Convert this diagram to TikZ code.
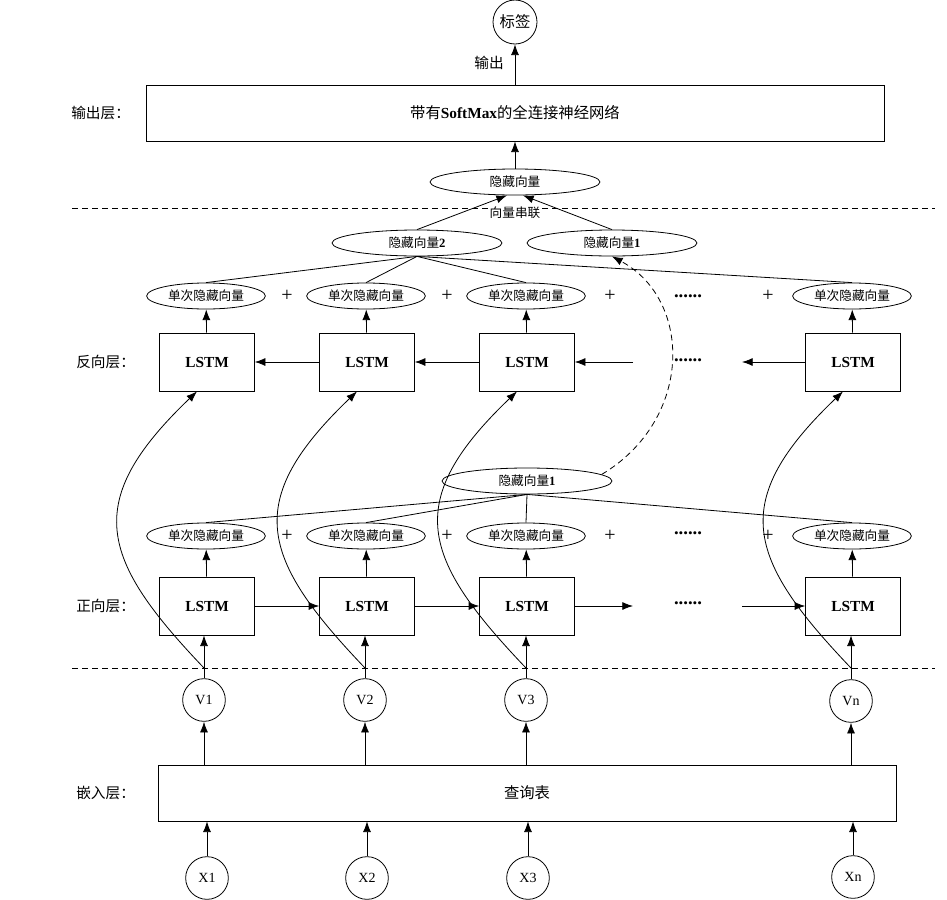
\documentclass[tikz,border=0pt]{standalone}
\usepackage{fontspec}
\setmainfont{Liberation Serif}
\newfontfamily\cjk{Noto Sans CJK SC}
\usetikzlibrary{shapes.geometric,arrows.meta,positioning,calc}
\tikzset{
  % LSTM cell
  LB/.style={rectangle,draw,line width=0.6pt,
             minimum width=71pt,minimum height=43.5pt,inner sep=0pt,
             font=\fontsize{11.5}{12}\selectfont\bfseries},
  % wide box
  WB/.style={rectangle,draw,line width=0.6pt,
             minimum width=553.5pt,minimum height=42pt,inner sep=0pt,
             font=\fontsize{11.5}{13}\selectfont\cjk},
  % ellipses
  EL/.style={ellipse,draw,line width=0.6pt,
             minimum width=89pt,minimum height=19.5pt,inner sep=0pt,
             font=\fontsize{9.5}{11}\selectfont\cjk},
  ELW/.style={EL,minimum width=127.5pt},
  % circles
  CR/.style={circle,draw,line width=0.6pt,minimum size=32pt,inner sep=0pt,
             font=\fontsize{10.5}{12}\selectfont},
  % connectors
  arr/.style={-{Latex[length=8pt,width=6pt]},line width=0.6pt},
  ln/.style={line width=0.6pt},
  sep/.style={dash pattern=on 4.5pt off 3pt,line width=0.6pt},
  % texts
  LL/.style={font=\fontsize{11}{13}\selectfont\cjk,inner sep=0pt,anchor=west},
  PL/.style={font=\fontsize{15}{15}\selectfont},
  DT/.style={font=\fontsize{14}{14}\selectfont\bfseries}
}

\begin{document}
\begin{tikzpicture}[x=0.75pt,y=-0.75pt]
  \useasboundingbox (0,0) rectangle (947,900);

  % output layer
  \node[CR,minimum size=33pt,font=\fontsize{11.5}{13}\selectfont\cjk] (tag) at (515,22) {标签};
  \node[WB] (fc) at (515,113) {带有{\rmfamily\bfseries SoftMax}的全连接神经网络};
  \node[ELW] (hv) at (515,182) {隐藏向量};
  \node[font=\fontsize{11}{13}\selectfont\cjk,inner sep=0pt] (outtxt) at (489,63) {输出};
  \draw[arr] (fc) -- (tag);
  \draw[arr] (hv) -- (fc);

  % separators
  \coordinate (s1l) at (72,208);  \coordinate (s1r) at (935,208);
  \coordinate (s2l) at (72,668);  \coordinate (s2r) at (935,668);
  \draw[sep] (s1l) -- (s1r);
  \draw[sep] (s2l) -- (s2r);
  \node[fill=white,inner sep=1pt,font=\fontsize{9.5}{11}\selectfont\cjk] (concat) at (515,213) {向量串联};

  % layer labels
  \node[LL] (lout) at (71,113) {输出层：};
  \node[LL] (lbwd) at (76,362) {反向层：};
  \node[LL] (lfwd) at (76,606) {正向层：};
  \node[LL] (lemb) at (76,793) {嵌入层：};

  % hidden vectors
  \node[ELW] (h2) at (417,243) {隐藏向量{\rmfamily\bfseries 2}};
  \node[ELW] (ht) at (612,243) {隐藏向量{\rmfamily\bfseries 1}};
  \node[ELW] (hm) at (527,481) {隐藏向量{\rmfamily\bfseries 1}};
  \draw[arr] (h2.north) -- ([xshift=-6pt]hv.south);
  \draw[arr] (ht.north) -- ([xshift=6pt]hv.south);

  % LSTM columns
  \foreach \i/\x in {1/207,2/367,3/527,4/853}{
    \node[LB] (b\i) at (\x,362) {LSTM};
    \node[EL] (be\i) at (\x-1,296) {单次隐藏向量};
    \node[LB] (f\i) at (\x,606) {LSTM};
    \node[EL] (fe\i) at (\x-1,536) {单次隐藏向量};
    \draw[arr] (b\i) -- (be\i);
    \draw[arr] (f\i) -- (fe\i);
    \draw[ln] (h2.south) -- (be\i.north);
    \draw[ln] (hm.south) -- (fe\i.north);
  }
  \foreach \x in {287,447,610,768}{
    \node[PL] at (\x,296) {+};
    \node[PL] at (\x,536) {+};
  }

  % backward chain
  \coordinate (bg1) at (633,362);
  \coordinate (bg2) at (742,362);
  \draw[arr] (b2) -- (b1);
  \draw[arr] (b3) -- (b2);
  \draw[arr] (bg1) -- (b3);
  \draw[arr] (b4) -- (bg2);
  \node[DT] (bdots) at (688,360) {......};
  \node[DT] (edots) at (688,296) {......};

  % forward chain
  \coordinate (fg1) at (633,606);
  \coordinate (fg2) at (742,606);
  \draw[arr] (f1) -- (f2);
  \draw[arr] (f2) -- (f3);
  \draw[arr] (f3) -- (fg1);
  \draw[arr] (fg2) -- (f4);
  \node[DT] (fdots) at (688,603) {......};
  \node[DT] (gdots) at (688,533) {......};

  % dashed link
  \draw[arr,sep] (hm.5) .. controls (693,420) and (693,300) .. (ht.south);

  % embedding layer
  \node[WB] (tbl) at (527,793) {查询表};
  \foreach \i/\x/\y/\n in {1/204/700/1,2/365/700/2,3/526/700/3,4/851/701/n}{
    \node[CR] (v\i) at (\x,\y) {V\n};
  }
  \foreach \i/\x/\y/\n in {1/207/878/1,2/367/878/2,3/528/878/3,4/853/877/n}{
    \node[CR] (x\i) at (\x,\y) {X\n};
  }
  \foreach \i in {1,...,4}{
    \draw[arr] (tbl.north -| v\i) -- (v\i);
    \draw[arr] (x\i) -- (tbl.south -| x\i);
    \draw[arr] (v\i) -- (v\i.north |- f\i.south);
    \coordinate (c\i) at (v\i.north |- s2l);
    \draw[arr] (c\i) .. controls +(-105,-110) and +(-115,110) .. ([xshift=-7.5pt]b\i.south);
  }
\end{tikzpicture}
\end{document}
